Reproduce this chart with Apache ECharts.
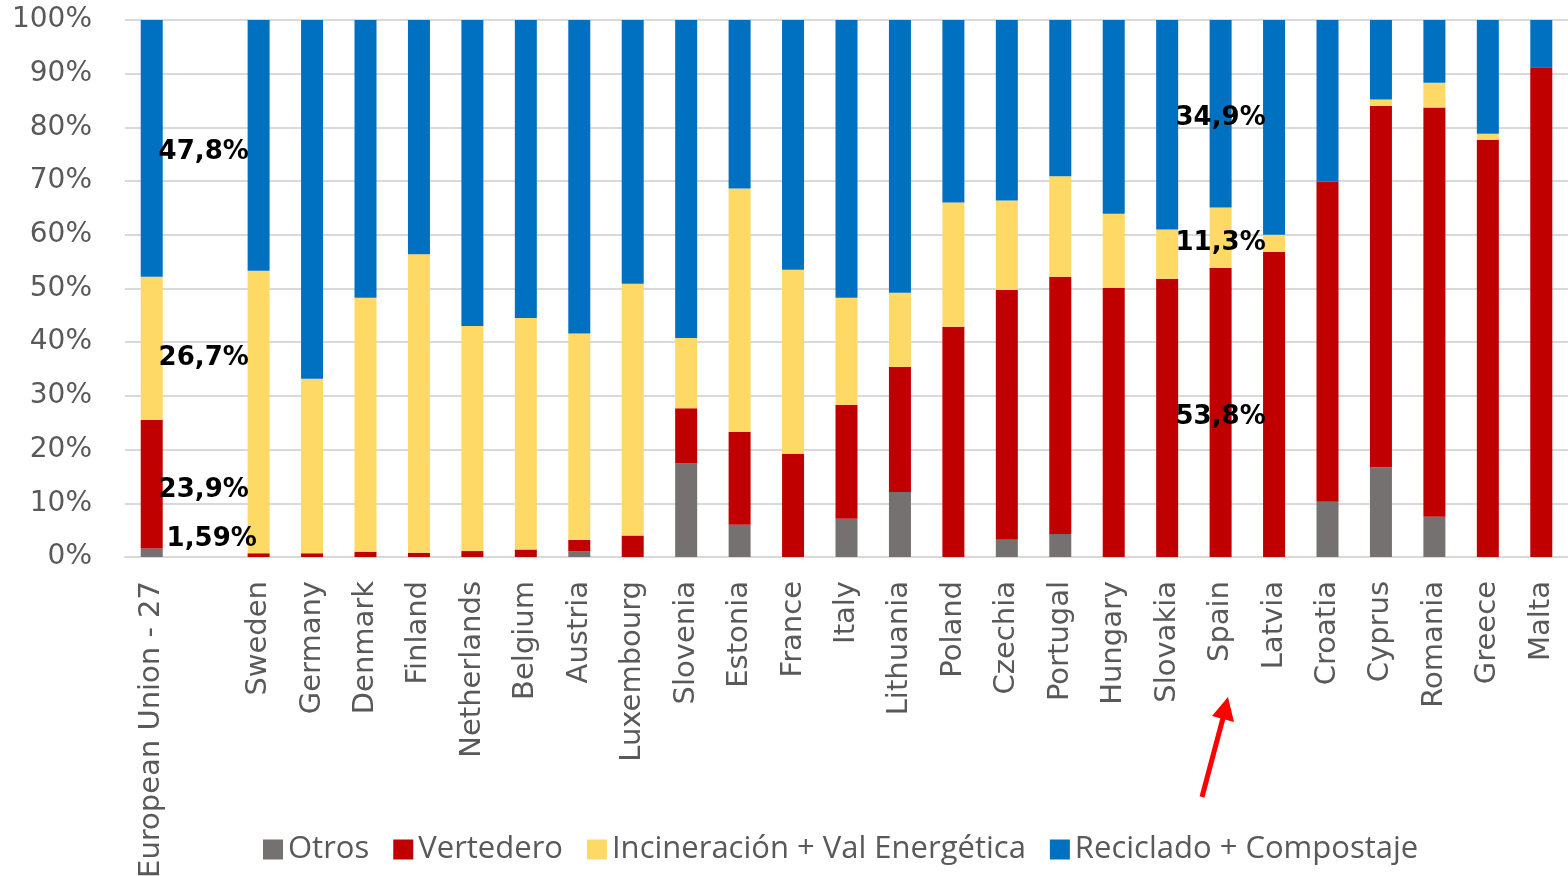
<!DOCTYPE html>
<html>
<head>
<meta charset="utf-8">
<script src="https://cdn.jsdelivr.net/npm/echarts@6/dist/echarts.min.js"></script>
<style>
  html, body { margin: 0; padding: 0; background: #fff; }
  #main { width: 1568px; height: 876px; }
</style>
</head>
<body>
<div id="main"></div>
<script>
// categorías (la segunda está vacía: hueco tras la UE)
var paises = ['European Union - 27', '', 'Sweden', 'Germany', 'Denmark', 'Finland', 'Netherlands',
  'Belgium', 'Austria', 'Luxembourg', 'Slovenia', 'Estonia', 'France', 'Italy', 'Lithuania',
  'Poland', 'Czechia', 'Portugal', 'Hungary', 'Slovakia', 'Spain', 'Latvia', 'Croatia',
  'Cyprus', 'Romania', 'Greece', 'Malta'];

var otros        = [1.59, null, 0, 0, 0, 0, 0, 0, 1.1, 0, 17.4, 6.0, 0, 7.1, 12.1, 0, 3.2, 4.3, 0, 0, 0, 0, 10.3, 16.7, 7.5, 0, 0];
var vertedero    = [23.9, null, 0.7, 0.7, 1.0, 0.8, 1.1, 1.4, 2.1, 4.0, 10.3, 17.3, 19.2, 21.2, 23.3, 42.9, 46.5, 47.9, 50.1, 51.8, 53.8, 56.8, 59.6, 67.3, 76.2, 77.7, 91.2];
var incineracion = [26.7, null, 52.6, 32.5, 47.3, 55.6, 41.9, 43.1, 38.4, 46.9, 13.1, 45.3, 34.3, 20.0, 13.8, 23.1, 16.7, 18.7, 13.8, 9.2, 11.3, 3.2, 0, 1.2, 4.6, 1.1, 0];
var reciclado    = [47.8, null, 46.7, 66.8, 51.7, 43.6, 57.0, 55.5, 58.4, 49.1, 59.2, 31.4, 46.5, 51.7, 50.8, 34.0, 33.6, 29.1, 36.1, 39.0, 34.9, 40.0, 30.1, 14.8, 11.7, 21.2, 8.8];

var yTicks = ['0%', '10%', '20%', '30%', '40%', '50%', '60%', '70%', '80%', '90%', '100%'];

// barras con etiqueta: UE (0) y España (20)
var conEtiqueta = [0, 20];

function pct(v) {
  return String(v).replace('.', ',') + '%';
}

function datos(arr, posUE) {
  return arr.map(function (v, i) {
    var item = { value: v };
    if (conEtiqueta.indexOf(i) >= 0 && v > 0) {
      item.label = i === 0
        ? { show: true, position: posUE, align: 'center', verticalAlign: 'middle' }
        : { show: true, position: 'inside' };
    }
    return item;
  });
}

var etiqueta = {
  show: false,
  position: 'inside',
  color: '#000',
  fontFamily: 'DejaVu Sans',
  fontWeight: 'bold',
  fontSize: 26,
  formatter: function (p) { return pct(p.value); }
};

var series = [
  { name: 'Otros', arr: otros, color: '#767171', pos: [71, -11], dy: 2 },
  { name: 'Vertedero', arr: vertedero, color: '#C00000', pos: [63, '50%'], dy: 6 },
  { name: 'Incineración + Val Energética', arr: incineracion, color: '#FFD966', pos: [63, '50%'], dy: 10 },
  { name: 'Reciclado + Compostaje', arr: reciclado, color: '#0070C0', pos: [63, '50%'], dy: 4 }
].map(function (s) {
  return {
    name: s.name,
    type: 'bar',
    stack: 'total',
    barWidth: 22,
    itemStyle: { color: s.color },
    label: etiqueta,
    labelLayout: function (p) {
      return { dy: p.dataIndex === 0 ? s.dy : 5, hideOverlap: false };
    },
    data: datos(s.arr, s.pos)
  };
});

var myChart = echarts.init(document.getElementById('main'));
myChart.setOption({
  animation: false,
  grid: { left: 125, right: 0, top: 20, bottom: 319, outerBoundsMode: 'none' },
  legend: {
    left: 258,
    top: 829,
    itemWidth: 20,
    itemHeight: 20,
    itemGap: 24,
    icon: 'rect',
    textStyle: { fontFamily: 'Open Sans', fontSize: 31, color: '#595959' },
    data: series.map(function (s) { return s.name; })
  },
  xAxis: {
    type: 'category',
    data: paises,
    axisTick: { show: false },
    axisLine: { lineStyle: { color: '#d9d9d9', width: 2 } },
    axisLabel: {
      interval: 0,
      rotate: 90,
      margin: 24,
      color: '#595959',
      fontFamily: 'DejaVu Sans',
      fontSize: 29
    }
  },
  yAxis: {
    type: 'value',
    min: 0,
    max: 100,
    interval: 10,
    axisLine: { show: false },
    axisTick: { show: false },
    splitLine: { lineStyle: { color: '#d9d9d9', width: 2 } },
    axisLabel: {
      margin: 33,
      color: '#595959',
      fontFamily: 'DejaVu Sans',
      fontSize: 28,
      formatter: function (v) { return yTicks[v / 10]; }
    }
  },
  series: series,
  graphic: [
    {
      type: 'line',
      shape: { x1: 1202, y1: 797, x2: 1223, y2: 718 },
      style: { stroke: '#ff0000', lineWidth: 5 }
    },
    {
      type: 'polygon',
      shape: { points: [[1228, 697], [1212, 716], [1234, 722]] },
      style: { fill: '#ff0000' }
    }
  ]
});
</script>
</body>
</html>
